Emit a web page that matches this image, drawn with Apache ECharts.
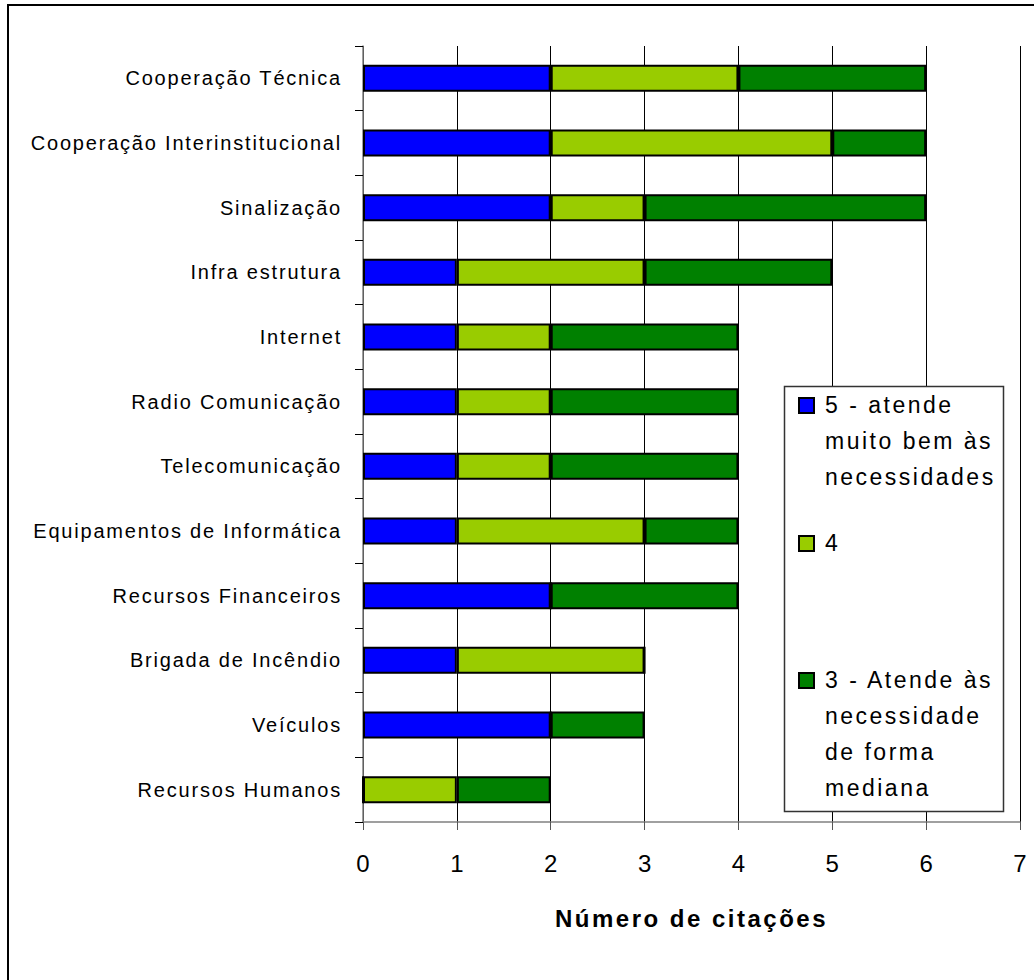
<!DOCTYPE html>
<html>
<head>
<meta charset="utf-8">
<script src="https://cdn.jsdelivr.net/npm/echarts@6/dist/echarts.min.js"></script>
<style>
html,body{margin:0;padding:0;background:#fff;}
#chart{width:1034px;height:980px;}
#chart svg text{letter-spacing:0px;}
#chart svg text[style*="23px"]{letter-spacing:2.5px;}
#chart svg text[style*="bold"]{letter-spacing:2.5px;}
#chart svg text[style*="20px"]{letter-spacing:1.8px;}
</style>
</head>
<body>
<div id="chart"></div>
<script>
const categories = ["Cooperação Técnica","Cooperação Interinstitucional","Sinalização","Infra estrutura","Internet","Radio Comunicação","Telecomunicação","Equipamentos de Informática","Recursos Financeiros","Brigada de Incêndio","Veículos","Recursos Humanos"];
const seriesNames = ["5 - atende muito bem às necessidades","4","3 - Atende às necessidade de forma mediana"];
const legendLabels = ["5 - atende\nmuito bem às\nnecessidades","4","3 - Atende às\nnecessidade\nde forma\nmediana"];
const values5 = [2,2,2,1,1,1,1,1,2,1,2,0];
const values4 = [2,3,1,2,1,1,1,2,0,2,0,1];
const values3 = [2,1,3,2,2,2,2,1,2,0,1,1];
const xTicks = [0,1,2,3,4,5,6,7];
const colors = ["#0000FF","#99CC00","#008000"];
const axisTitle = "Número de citações";

const FONT = "'Liberation Sans', Arial, Helvetica, sans-serif";
const chart = echarts.init(document.getElementById('chart'), null, { renderer: 'svg' });
const allValues = [values5, values4, values3];

const series = allValues.map((vals, i) => ({
  name: seriesNames[i],
  type: 'bar',
  stack: 'total',
  barWidth: 27,
  data: vals,
  itemStyle: { color: colors[i], borderColor: '#000', borderWidth: 2 },
  emphasis: { disabled: true }
}));

const legendTops = [387, 525, 662];
const legendGraphics = [];
legendGraphics.push({
  type: 'rect', z: 100,
  shape: { x: 784.5, y: 386.5, width: 219, height: 425 },
  style: { fill: '#fff', stroke: '#333', lineWidth: 1.5 }
});
legendLabels.forEach((lab, i) => {
  legendGraphics.push({
    type: 'rect', z: 101,
    shape: { x: 799, y: legendTops[i] + 11, width: 15, height: 15 },
    style: { fill: colors[i], stroke: '#000', lineWidth: 2 }
  });
  legendGraphics.push({
    type: 'text', z: 101,
    x: 825, y: legendTops[i],
    style: { text: lab, fontFamily: FONT, fontSize: 23, fill: '#000', lineHeight: 36, verticalAlign: 'top', align: 'left' }
  });
});
legendGraphics.push({
  type: 'rect', z: 0,
  shape: { x: 8, y: 5, width: 2000, height: 2000 },
  style: { fill: 'none', stroke: '#000', lineWidth: 2 }
});

chart.setOption({
  animation: false,
  backgroundColor: '#fff',
  grid: { left: 363, right: 14, top: 46, bottom: 158, containLabel: false },
  xAxis: {
    type: 'value', min: 0, max: 7, interval: 1,
    axisLine: { show: true, lineStyle: { color: '#808080', width: 1.5 } },
    axisTick: { show: true, length: 8, lineStyle: { color: '#555', width: 1 } },
    axisLabel: { fontFamily: FONT, fontSize: 24, color: '#000', margin: 29,
      formatter: v => xTicks.includes(v) ? String(v) : '' },
    splitLine: { show: true, lineStyle: { color: '#000', width: 1 } },
    name: axisTitle, nameLocation: 'middle', nameGap: 84,
    nameTextStyle: { fontFamily: FONT, fontSize: 24, fontWeight: 'bold', color: '#000' }
  },
  yAxis: {
    type: 'category', data: categories, inverse: true,
    axisLine: { show: true, lineStyle: { color: '#808080', width: 1.5 } },
    axisTick: { show: true, length: 8, inside: false, lineStyle: { color: '#000', width: 1 } },
    axisLabel: { fontFamily: FONT, fontSize: 20, color: '#000', margin: 21 },
    splitLine: { show: false }
  },
  series: series,
  graphic: legendGraphics
});
</script>
</body>
</html>
